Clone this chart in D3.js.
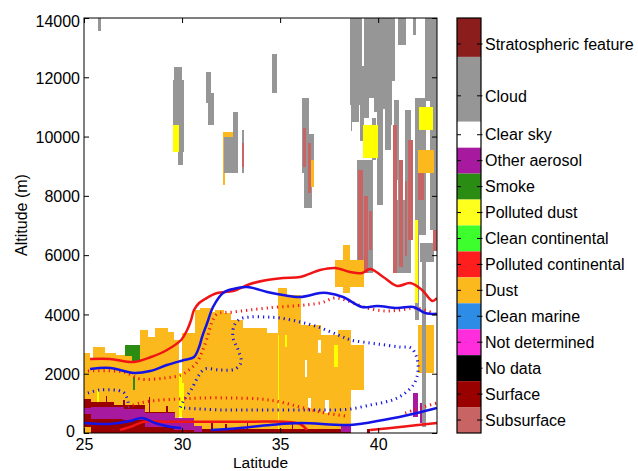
<!DOCTYPE html>
<html><head><meta charset="utf-8">
<script src="https://cdn.jsdelivr.net/npm/d3@7"></script>
<style>
body{margin:0;background:#fff}
svg{display:block}
text{font-family:"Liberation Sans",Arial,Helvetica,sans-serif;fill:#000}
</style>
</head><body>
<svg id="c" width="638" height="471"></svg>
<script>
// ---------------- data ----------------
const latTicks = [25, 30, 35, 40];
const altTicks = [0, 2000, 4000, 6000, 8000, 10000, 12000, 14000];

// colour bar classes (top to bottom)
const classNames = ["Stratospheric feature","Cloud","Clear sky","Other aerosol","Smoke","Polluted dust",
  "Clean continental","Polluted continental","Dust","Clean marine","Not determined","No data","Surface","Subsurface"];
const classColors = ["#8C1D1D","#969696","#FFFFFF","#A7199F","#2B8C14","#FFFF1E",
  "#3CFF2D","#FF1E1E","#FBB91E","#2D8CE6","#FF2DDC","#000000","#990000","#C86464"];
const classLow  = [14.5, 12, 11, 10, 9, 8, 7, 6, 5, 4, 3, 2, 1, 0];
const classHigh = [16, 14.5, 12, 11, 10, 9, 8, 7, 6, 5, 4, 3, 2, 1];
const classTicks = [15, 13, 11.5, 10.5, 9.5, 8.5, 7.5, 6.5, 5.5, 4.5, 3.5, 2.5, 1.5, 0.5];

// feature cells: [latStart, latEnd, altBase(m), altTop(m)]
const cloudCells = [
  [25.72,25.82,13590,14000],
  [29.58,29.99,11900,12350],[29.55,30.07,10390,11900],[29.80,30.07,9490,10390],[29.78,30.00,9040,9490],
  [31.20,31.45,11130,12180],[31.30,31.58,10390,11470],
  [34.60,34.80,11470,12780],
  [33.06,33.12,8800,10220],
  [36.10,36.45,10100,11300],[36.10,36.70,8770,10100],[36.20,36.60,7620,8770],
  [38.57,39.18,11065,14000],[38.67,38.98,10490,11065],[38.60,38.66,10200,11065],
  [39.18,39.49,10630,14000],[39.49,39.80,11300,14000],[39.80,40.20,10830,14000],
  [40.20,40.61,10960,14000],[40.61,40.82,11900,14000],[41.02,41.38,13090,14000],
  [41.79,41.89,13430,14000],[42.40,43.00,11230,14000],[42.65,43.00,6850,11230],
  [39.08,39.23,9880,11065],[39.95,40.20,7690,10830],[39.69,39.85,9210,10630],
  [40.36,40.61,9550,10960],[40.82,41.02,8540,11230],[41.38,41.63,7860,10900],
  [41.89,42.40,6680,11300],[39.34,39.59,6510,8700],[42.14,42.81,5770,6410],
  [41.89,42.04,3810,6850],[40.87,41.63,5400,7860],[38.93,39.69,5400,9200],
  [41.00,41.05,7200,8540],[40.65,40.70,10400,11900]
];
const cloudFrontCells = [
  [32.14,32.55,8800,10000],[32.60,32.80,8770,10830],
  [42.24,42.40,200,5770]
];
const clearCells = [
  [39.20,39.26,12400,14000],
  [36.28,36.36,1900,2460],[36.43,36.52,845,1180],
  [37.30,37.45,700,1110],[36.94,37.06,2700,3140]
];
const subsurfaceCells = [
  [32.48,32.58,8900,10000],[33.07,33.11,9000,9800],
  [36.15,36.30,9000,10300],[36.42,36.55,8100,9800],
  [38.98,39.20,5600,8870],[39.30,39.45,5400,8000],[39.55,39.65,6200,7500],
  [40.77,40.95,5400,10390],[41.05,41.25,5600,9210],[41.35,41.45,6000,8500],
  [41.53,41.73,6510,9880],[42.04,42.30,7860,9550],[42.81,43.00,6170,6850]
];
const dustCells = [
  [25.00,25.26,0,2700],[25.26,25.46,0,2530],[25.46,26.02,0,2900],[26.02,26.58,0,2700],
  [26.58,27.14,0,2630],[27.14,27.86,0,2600],[27.86,28.21,0,3475],[28.21,28.62,0,3240],
  [28.62,29.23,0,3540],[29.23,29.54,0,3400],[29.54,29.80,0,3140],
  [30.00,30.66,0,3374],[30.66,30.92,0,4150],[30.92,31.43,0,4217],[31.43,31.68,0,4080],
  [31.68,32.09,0,4150],[32.09,32.45,0,4048],[32.45,33.06,0,3812],[33.06,34.29,0,3540],
  [34.29,34.90,0,3370],[34.90,35.31,0,4890],[35.31,36.02,0,4655],[36.02,37.04,0,3643],
  [37.04,37.96,0,3306],[37.96,38.57,0,3475],[38.57,39.23,1450,2970],
  [37.79,39.23,4935,5835],[38.21,38.55,4750,6340],
  [42.04,42.80,2050,3640],[42.04,42.81,8800,9550],
  [32.08,32.70,9040,10160],[32.08,32.18,8370,9040],[36.60,36.72,8300,9200]
];
const pollutedDustCells = [
  [29.55,29.80,9480,10390],[39.23,39.95,9280,10390],[42.09,42.76,10250,11000],
  [41.89,42.00,4400,7190],
  [29.84,29.96,540,2020],[30.00,30.08,800,1700],[34.87,34.93,150,3300],
  [37.75,37.90,2230,2970],[25.65,25.72,1000,1450],[35.26,35.30,2900,3300]
];
const smokeCells = [
  [27.10,27.80,2600,2970],[27.45,27.80,2400,2600],[27.50,27.58,1450,1900]
];
const surfaceCells = [
  [25.00,25.35,200,1150],[25.35,26.50,0,1050],[26.50,28.10,0,950],[28.10,29.60,0,700],
  [29.60,30.00,0,300],[30.00,31.00,0,120],[31.00,38.60,0,130],[39.45,39.55,0,150],
  [26.10,26.15,0,1250],[27.00,27.05,0,1100],[28.30,28.35,0,1200],[31.50,31.54,0,350],
  [32.20,32.24,0,300],[33.30,33.33,0,400],[35.60,35.63,0,350],[29.20,29.25,0,900]
];
const otherAerosolCells = [
  [25.00,25.35,650,850],[25.35,27.00,500,880],[27.00,28.10,450,820],[28.10,29.60,200,680],
  [29.60,30.60,100,500],[30.60,31.00,50,250],[38.10,38.60,50,250],
  [41.79,41.99,540,1350],[42.14,42.40,340,1010]
];

// lines: [lat, alt(m)]
const redSolidUpper = [[25.31,2496],[26.33,2496],[27.55,2395],[28.42,2564],[29.23,2800],[29.95,3137],
  [30.26,3475],[30.46,3812],[30.61,4149],[30.87,4386],[31.17,4520],[31.79,4723],[32.60,4790],
  [33.47,5026],[34.34,5161],[35.15,5229],[36.02,5263],[37.04,5499],[37.81,5566],[38.57,5431],
  [39.18,5398],[39.59,5533],[40.26,5263],[40.97,4959],[41.63,5060],[42.24,4824],[42.76,4453],[43.00,4554]];
const blueSolidUpper = [[25.31,2159],[26.33,2193],[27.55,2024],[28.37,2092],[29.23,2294],[30.10,2463],
  [30.61,2564],[30.87,2901],[31.02,3239],[31.28,3711],[31.58,4251],[32.09,4723],[32.60,4858],
  [33.32,4925],[34.34,4757],[35.15,4655],[36.02,4588],[37.04,4723],[37.40,4723],[38.21,4588],
  [39.18,4251],[39.95,4284],[40.97,4217],[41.79,4251],[42.40,4048],[43.00,4014]];
const redDottedUpper = [[25.20,2091],[27.04,2058],[27.86,1822],[29.13,1855],[29.95,1957],[30.41,2159],
  [30.77,2395],[31.02,2733],[31.28,3205],[31.53,3745],[31.79,4014],[32.60,4082],[34.34,4217],
  [37.04,4386],[37.81,4554],[38.57,4429],[39.44,4217],[40.36,4116],[41.12,4149],[41.99,4217],[43.00,3981]];
const blueDottedLoop = [[29.92,860],[30.10,1113],[30.46,1451],[30.87,1957],[31.17,2159],[31.94,2125],
  [32.70,2159],[33.01,2395],[32.86,2800],[32.60,3205],[32.65,3610],[32.96,3846],[33.47,3913],
  [34.23,3913],[35.00,3880],[36.02,3745],[36.94,3576],[37.96,3306],[38.62,3137],[39.59,3036],
  [40.36,2969],[41.12,2901],[41.68,2867],[41.94,2598],[42.04,2260],[41.99,1923],[41.79,1619],
  [41.38,1349],[40.87,1147],[40.36,1046],[39.59,945],[38.62,810],[37.81,776],[36.94,776],
  [36.02,776],[35.00,776],[33.98,776],[32.96,776],[31.94,776],[30.92,810],[30.15,843],[29.92,860]];
const blueDottedLeft = [[25.20,1349],[25.82,1451],[26.99,1383],[27.19,1181],[27.30,776]];
const redDottedLower = [[27.24,877],[27.86,1012],[28.88,1113],[29.95,1147],[30.92,1181],[32.45,1181],
  [33.98,1147],[35.00,1046],[36.02,877],[37.04,708],[38.32,573]];
const redDottedLowerRight = [[41.38,675],[42.14,843],[43.00,1012]];
const blueSolidLowerLeft = [[25.00,337],[26.33,304],[27.35,405],[27.96,506],[28.62,337],[29.44,202],[29.95,169]];
const blueSolidLowerRight = [[31.48,101],[32.96,169],[34.49,270],[36.02,337],[38.57,270],[40.26,439],[41.99,675],[43.00,843]];
const redSolidLowerLeft = [[26.84,101],[27.50,236],[28.06,380],[29.24,380],[30.92,380],[33.47,380],[35.20,380],[36.02,304],[36.38,101]];
const redSolidLowerRight = [[39.59,101],[41.12,202],[43.00,337]];

// ---------------- drawing ----------------
const svg = d3.select("#c");
const L = 84, R = 437, T = 18, B = 433;
const x = d3.scaleLinear().domain([25, 43]).range([L, R]);
const y = d3.scaleLinear().domain([0, 14000]).range([B, T]);

svg.append("defs").append("clipPath").attr("id", "pc")
  .append("rect").attr("x", L).attr("y", T).attr("width", R - L).attr("height", B - T);
const plot = svg.append("g").attr("clip-path", "url(#pc)");

function cells(data, color) {
  plot.append("g").attr("shape-rendering", "crispEdges")
    .selectAll("rect").data(data).join("rect")
    .attr("x", d => x(d[0])).attr("width", d => x(d[1]) - x(d[0]) + 0.6)
    .attr("y", d => y(d[3])).attr("height", d => y(d[2]) - y(d[3]) + 0.4)
    .attr("fill", color);
}
const col = name => classColors[classNames.indexOf(name)];

cells(cloudCells, col("Cloud"));
cells(subsurfaceCells, col("Subsurface"));
cells(dustCells, col("Dust"));
cells(pollutedDustCells, "#FFFF00");
cells(smokeCells, col("Smoke"));
cells(surfaceCells, col("Surface"));
cells(otherAerosolCells, col("Other aerosol"));
cells(clearCells, "#FFFFFF");
cells(cloudFrontCells, col("Cloud"));

const line = d3.line().x(d => x(d[0])).y(d => y(d[1])).curve(d3.curveCatmullRom.alpha(0.5));
function path(data, color, dotted) {
  plot.append("path").datum(data).attr("d", line)
    .attr("fill", "none").attr("stroke", color)
    .attr("stroke-width", dotted ? 3 : 2.5)
    .attr("stroke-dasharray", dotted ? "1.2,4" : null)
    .attr("stroke-linejoin", "round");
}
const RED = "#F01414", BLUE = "#1414E6";
path(blueDottedLoop, BLUE, true);
path(blueDottedLeft, BLUE, true);
path(redDottedUpper, RED, true);
path(redDottedLower, RED, true);
path(redDottedLowerRight, RED, true);
path(redSolidLowerLeft, RED, false);
path(redSolidLowerRight, RED, false);
path(blueSolidLowerLeft, BLUE, false);
path(blueSolidLowerRight, BLUE, false);
path(redSolidUpper, RED, false);
path(blueSolidUpper, BLUE, false);

// axes
const fs = 16;
const gx = svg.append("g").attr("transform", `translate(0,${B})`)
  .call(d3.axisBottom(x).tickValues(latTicks).tickSize(-5).tickPadding(6).tickFormat(d3.format("d")));
const gy = svg.append("g").attr("transform", `translate(${L},0)`)
  .call(d3.axisLeft(y).tickValues(altTicks).tickSize(-5).tickPadding(4).tickFormat(d3.format("d")));
const gt = svg.append("g").attr("transform", `translate(0,${T})`)
  .call(d3.axisTop(x).tickValues(latTicks).tickSize(-5).tickFormat(""));
const gr = svg.append("g").attr("transform", `translate(${R},0)`)
  .call(d3.axisRight(y).tickValues(altTicks).tickSize(-5).tickFormat(""));
[gx, gy, gt, gr].forEach(g => {
  g.select(".domain").remove();
  g.selectAll("line").attr("stroke", "#000");
  g.selectAll("text").attr("font-size", fs).attr("font-family", null).attr("fill", "#000");
});
gy.selectAll("text")
  .attr("dy", d => d === 14000 ? "0.52em" : (d === 0 ? "0.2em" : "0.36em"))
  .attr("x", d => d === 0 ? -9 : -4);
svg.append("rect").attr("x", L).attr("y", T).attr("width", R - L).attr("height", B - T)
  .attr("fill", "none").attr("stroke", "#000").attr("stroke-width", 1);

svg.append("text").attr("x", (L + R) / 2).attr("y", 467.6).attr("text-anchor", "middle")
  .attr("font-size", 15.5).text("Latitude");
svg.append("text").attr("transform", "translate(26.5,215) rotate(-90)").attr("text-anchor", "middle")
  .attr("font-size", fs).text("Altitude (m)");

// colour bar
const cb = d3.scaleLinear().domain([0, 16]).range([B, T]);
const CL = 457, CR = 481;
const cbg = svg.append("g");
cbg.selectAll("rect.cls").data(classNames).join("rect").attr("class", "cls")
  .attr("x", CL).attr("width", CR - CL)
  .attr("y", (d, i) => cb(classHigh[i])).attr("height", (d, i) => cb(classLow[i]) - cb(classHigh[i]))
  .attr("fill", (d, i) => classColors[i]);
cbg.selectAll("line.tl").data(classTicks).join("line").attr("class", "tl")
  .attr("x1", CL).attr("x2", CL + 4).attr("y1", d => cb(d)).attr("y2", d => cb(d)).attr("stroke", "#000");
cbg.selectAll("line.tr").data(classTicks).join("line").attr("class", "tr")
  .attr("x1", CR - 4).attr("x2", CR + 1.5).attr("y1", d => cb(d)).attr("y2", d => cb(d)).attr("stroke", "#000");
cbg.append("rect").attr("x", CL).attr("y", T).attr("width", CR - CL).attr("height", B - T)
  .attr("fill", "none").attr("stroke", "#000").attr("stroke-width", 1.2);
cbg.selectAll("text").data(classNames).join("text")
  .attr("x", 485).attr("y", (d, i) => cb(classTicks[i])).attr("dy", "0.36em")
  .attr("font-size", fs).text(d => d);
</script>
</body></html>
